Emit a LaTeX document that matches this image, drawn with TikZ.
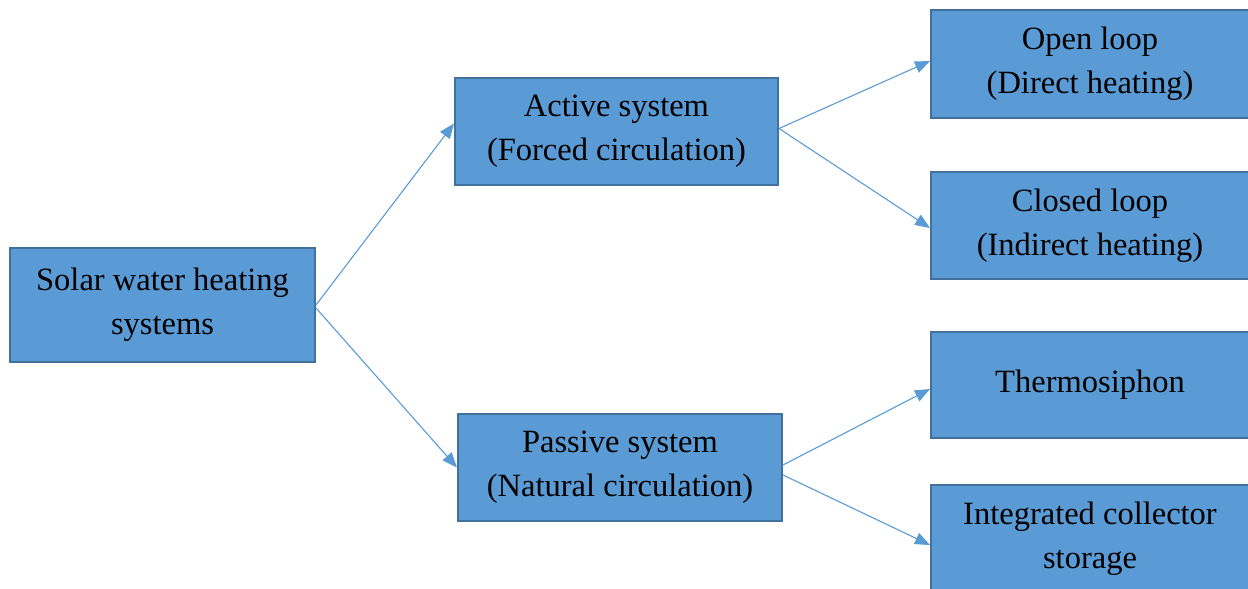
\documentclass[tikz,border=0pt]{standalone}
\usepackage{fontspec}
\setmainfont{Liberation Serif}
\usetikzlibrary{arrows.meta}
\definecolor{boxfill}{HTML}{5B9BD5}
\definecolor{boxline}{HTML}{41719C}
\definecolor{arrowc}{HTML}{5B9BD5}
\begin{document}
\begin{tikzpicture}[x=1pt,y=-1pt,
  box/.style={draw=boxline, line width=2pt, fill=boxfill, inner sep=0pt,
    align=center, font=\fontsize{32.5}{44}\selectfont, text=black},
  conn/.style={draw=arrowc, line width=1.1pt, -{Triangle[length=15pt,width=12pt]}}]
\useasboundingbox (0,0) rectangle (1248,589);
\clip (0,0) rectangle (1248,589);
\node[box, minimum width=305pt, minimum height=114pt] (root) at (162.5,305) {Solar water heating\\systems};
\node[box, minimum width=323pt, minimum height=107pt] (active) at (616.5,131.5) {Active system\\(Forced circulation)};
\node[box, minimum width=324pt, minimum height=107pt] (passive) at (620,467.5) {Passive system\\(Natural circulation)};
\node[box, minimum width=330pt, minimum height=108pt, anchor=west] (open) at (930,64) {\hspace*{-12pt}Open loop\\\hspace*{-12pt}(Direct heating)};
\node[box, minimum width=330pt, minimum height=107pt, anchor=west] (closed) at (930,225.5) {\hspace*{-12pt}Closed loop\\\hspace*{-12pt}(Indirect heating)};
\node[box, minimum width=330pt, minimum height=106pt, anchor=west] (thermo) at (930,385) {\hspace*{-12pt}Thermosiphon};
\node[box, minimum width=330pt, minimum height=108pt, anchor=west] (ics) at (930,539) {\hspace*{-12pt}Integrated collector\\\hspace*{-12pt}storage};
\draw[conn] (root.east) -- ([yshift=8pt]active.west);
\draw[conn] ([yshift=-3pt]root.east) -- (passive.west);
\draw[conn] ([yshift=3pt]active.east) -- ([yshift=3pt]open.west);
\draw[conn] ([yshift=3pt]active.east) -- ([yshift=-2.5pt]closed.west);
\draw[conn] ([yshift=2.5pt]passive.east) -- ([yshift=-4pt]thermo.west);
\draw[conn] ([yshift=-7.5pt]passive.east) -- ([yshift=-6pt]ics.west);
\end{tikzpicture}
\end{document}
